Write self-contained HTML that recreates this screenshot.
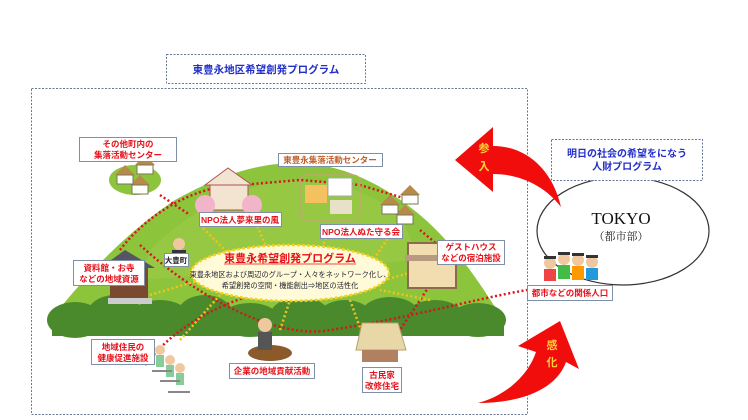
<!DOCTYPE html>
<html><head><meta charset="utf-8"><style>
html,body{margin:0;padding:0;background:#fff;}
svg{display:block;font-family:"Liberation Sans","Noto Sans CJK JP",sans-serif;}
.lb{fill:#fff;stroke:#7f8fa8;stroke-width:1;}
.rt{fill:#e8101a;font-weight:bold;font-size:8.5px;text-anchor:middle;}
.red{stroke:#d9141c;stroke-width:2.5;stroke-dasharray:2 2.5;fill:none;}
.yel{stroke:#f0c419;stroke-width:2.5;stroke-dasharray:2 2.5;fill:none;}
</style></head><body>
<svg width="748" height="420" viewBox="0 0 748 420" xmlns="http://www.w3.org/2000/svg">
<rect width="748" height="420" fill="#fff"/>
<rect x="166.5" y="54.5" width="199" height="29" fill="#fff" stroke="#6a7898" stroke-dasharray="2 1.5"/>
<text x="266" y="73" font-size="10.5" font-weight="bold" fill="#2330c8" text-anchor="middle">東豊永地区希望創発プログラム</text>
<rect x="31.5" y="88.5" width="496" height="326" fill="none" stroke="#6a7898" stroke-dasharray="2 1.5"/>

<path d="M52,318 C90,270 130,230 175,200 C220,175 260,162 300,163 C350,165 390,190 420,215 C450,240 475,275 500,315 Z" fill="#8cc43c"/>
<path d="M150,250 C200,200 260,180 300,180 C350,182 380,200 400,215 L420,260 L140,280 Z" fill="#9ccc48" opacity="0.6"/>
<g fill="#4a8a2c">
<ellipse cx="75" cy="320" rx="28" ry="18"/><ellipse cx="115" cy="315" rx="28" ry="20"/>
<ellipse cx="160" cy="318" rx="30" ry="18"/><ellipse cx="205" cy="315" rx="28" ry="20"/>
<ellipse cx="250" cy="320" rx="30" ry="17"/><ellipse cx="300" cy="316" rx="30" ry="19"/>
<ellipse cx="345" cy="318" rx="28" ry="18"/><ellipse cx="390" cy="316" rx="30" ry="19"/>
<ellipse cx="435" cy="318" rx="30" ry="18"/><ellipse cx="478" cy="320" rx="28" ry="17"/>
<rect x="52" y="318" width="452" height="18"/>
</g>
<path class="red" d="M160,195 L190,215"/>
<path class="red" d="M120,250 C150,210 200,185 240,185 L300,180 L360,185 L410,200"/>
<path class="red" d="M140,245 C200,300 280,340 330,330 C400,320 470,300 527,290"/>
<path class="red" d="M145,365 C180,320 230,300 270,290"/>
<path class="red" d="M420,230 L450,255 L400,330"/>
<path class="yel" d="M200,225 L240,265 M250,210 L270,255 M330,225 L320,255 M390,235 L370,265 M420,270 L385,280 M150,295 L200,280 M180,340 L220,295 M280,330 L290,300 M350,300 L370,355 M430,300 L380,290"/>

<ellipse cx="290" cy="273" rx="99" ry="28" fill="#fffbd8" stroke="#f3d11c" stroke-width="2.5" stroke-dasharray="3 2"/>
<text x="290" y="262" font-size="11" font-weight="bold" fill="#e8101a" text-anchor="middle">東豊永希望創発プログラム</text>
<line x1="224" y1="264" x2="356" y2="264" stroke="#e8101a" stroke-width="0.8"/>
<text x="290" y="277" font-size="7.2" fill="#223" text-anchor="middle">東豊永地区および周辺のグループ・人々をネットワーク化し、</text>
<text x="290" y="288" font-size="7.2" fill="#223" text-anchor="middle">希望創発の空間・機能創出⇒地区の活性化</text>

<ellipse cx="135" cy="180" rx="26" ry="15" fill="#8cc43c"/>
<g fill="#b88a4a"><path d="M115,175 l10,-10 l10,10Z M135,165 l10,-10 l10,10Z M130,185 l10,-10 l10,10Z"/></g>
<g fill="#fff" stroke="#775"><rect x="117" y="175" width="16" height="9"/><rect x="137" y="165" width="16" height="9"/><rect x="132" y="185" width="16" height="9"/></g>
<g fill="#b88a4a"><path d="M380,205 l10,-10 l10,10Z M400,195 l10,-10 l10,10Z M395,215 l10,-10 l10,10Z"/></g>
<g fill="#fff" stroke="#775"><rect x="382" y="205" width="16" height="9"/><rect x="402" y="195" width="16" height="9"/><rect x="397" y="215" width="16" height="9"/></g>
<path d="M205,185 L228,168 L252,185Z" fill="#f3e4d2" stroke="#a55"/>
<rect x="210" y="185" width="38" height="25" fill="#f3e4d2" stroke="#a55"/>
<circle cx="205" cy="205" r="10" fill="#f2b4c8"/><circle cx="252" cy="205" r="10" fill="#f2b4c8"/>
<rect x="300" y="175" width="60" height="45" rx="6" fill="none" stroke="#d69a80"/>
<rect x="305" y="185" width="22" height="18" fill="#f5c060"/><rect x="328" y="178" width="24" height="18" fill="#fff" stroke="#aaa"/><rect x="330" y="200" width="22" height="14" fill="#e8e0c8"/>
<rect x="408" y="243" width="48" height="45" fill="#f2ddb0" stroke="#8b6a50" stroke-width="2"/>
<rect x="405" y="255" width="54" height="6" fill="#b89a80"/>
<path d="M100,268 L125,250 L155,268Z" fill="#556"/>
<rect x="110" y="268" width="38" height="30" fill="#7a4a30"/>
<rect x="108" y="298" width="44" height="6" fill="#ccc"/>
<ellipse cx="270" cy="353" rx="22" ry="8" fill="#8b5a2b"/>
<circle cx="265" cy="325" r="7" fill="#f0c8a0"/><rect x="258" y="332" width="14" height="18" fill="#555"/>
<path d="M362,323 L398,323 L406,350 L356,350Z" fill="#e8d8a8" stroke="#b8a070"/>
<rect x="362" y="350" width="36" height="12" fill="#b08060"/>
<g fill="#f0c8a0"><circle cx="160" cy="350" r="5"/><circle cx="170" cy="360" r="5"/><circle cx="180" cy="368" r="5"/></g>
<g fill="#8c9"><rect x="156" y="355" width="8" height="12"/><rect x="166" y="365" width="8" height="12"/><rect x="176" y="373" width="8" height="12"/></g>
<g stroke="#888" stroke-width="2"><line x1="152" y1="371" x2="172" y2="371"/><line x1="160" y1="381" x2="180" y2="381"/><line x1="168" y1="392" x2="190" y2="392"/></g>
<circle cx="179" cy="244" r="6" fill="#f0c8a0"/><rect x="172" y="250" width="14" height="8" fill="#334"/>

<rect class="lb" x="79.5" y="137.5" width="97" height="24"/>
<text class="rt" x="128" y="147">その他町内の</text><text class="rt" x="128" y="158">集落活動センター</text>
<rect class="lb" x="278.5" y="153.5" width="104" height="13"/>
<text class="rt" x="330" y="163" style="fill:#c0602a">東豊永集落活動センター</text>
<rect class="lb" x="199.5" y="212.5" width="82" height="14"/>
<text class="rt" x="240" y="223">NPO法人夢来里の風</text>
<rect class="lb" x="320.5" y="224.5" width="82" height="14"/>
<text class="rt" x="361" y="235">NPO法人ぬた守る会</text>
<rect class="lb" x="164.5" y="253.5" width="24" height="13"/>
<text x="176" y="263" font-size="7.5" font-weight="bold" fill="#222" text-anchor="middle">大豊町</text>
<rect class="lb" x="73.5" y="260.5" width="71" height="25"/>
<text class="rt" x="109" y="271">資料館・お寺</text><text class="rt" x="109" y="282">などの地域資源</text>
<rect class="lb" x="437.5" y="240.5" width="67" height="24"/>
<text class="rt" x="471" y="250">ゲストハウス</text><text class="rt" x="471" y="261">などの宿泊施設</text>
<rect class="lb" x="91.5" y="339.5" width="63" height="25"/>
<text class="rt" x="123" y="350">地域住民の</text><text class="rt" x="123" y="361">健康促進施設</text>
<rect class="lb" x="229.5" y="363.5" width="85" height="15"/>
<text class="rt" x="272" y="374">企業の地域貢献活動</text>
<rect class="lb" x="362.5" y="367.5" width="39" height="25"/>
<text class="rt" x="382" y="378">古民家</text><text class="rt" x="382" y="389">改修住宅</text>
<rect class="lb" x="527.5" y="285.5" width="85" height="15"/>
<text class="rt" x="570" y="296">都市などの関係人口</text>

<ellipse cx="623" cy="231" rx="86" ry="54" fill="#fff" stroke="#333" stroke-width="1.2"/>
<rect x="551.5" y="139.5" width="151" height="41" fill="#fff" stroke="#6a7898" stroke-dasharray="2 1.5"/>
<text x="627" y="157" font-size="10" font-weight="bold" fill="#2330c8" text-anchor="middle">明日の社会の希望をになう</text>
<text x="627" y="170" font-size="10" font-weight="bold" fill="#2330c8" text-anchor="middle">人財プログラム</text>
<text x="621" y="224" font-size="17" fill="#111" text-anchor="middle" font-family="Liberation Serif,serif">TOKYO</text>
<text x="621" y="240" font-size="11" fill="#222" text-anchor="middle" font-family="Liberation Serif,'Noto Serif CJK SC',serif">（都市部）</text>
<g><circle cx="550" cy="263" r="6" fill="#f0c8a0"/><rect x="544" y="269" width="12" height="12" fill="#e44"/>
<circle cx="564" cy="259" r="6" fill="#f0c8a0"/><rect x="558" y="265" width="12" height="14" fill="#4b4"/>
<circle cx="578" cy="260" r="6" fill="#f0c8a0"/><rect x="572" y="266" width="12" height="14" fill="#f90"/>
<circle cx="592" cy="262" r="6" fill="#f0c8a0"/><rect x="586" y="268" width="12" height="12" fill="#29d"/>
<g fill="#333"><rect x="544" y="256" width="12" height="3"/><rect x="558" y="252" width="12" height="3"/><rect x="572" y="253" width="12" height="3"/><rect x="586" y="255" width="12" height="3"/></g></g>

<path d="M455,160 L493,127 L493,146 C525,146 552,168 561,207 C545,186 520,174 493,174 L493,192 Z" fill="#f20d0d"/>
<text x="484" y="152" font-size="11" font-weight="bold" fill="#ffd23a" text-anchor="middle">参</text>
<text x="484" y="170" font-size="11" font-weight="bold" fill="#ffd23a" text-anchor="middle">入</text>
<path d="M478,403 C505,396 528,376 536,352 L518,346 L560,321 L579,369 L566,362 C556,390 520,403 478,403 Z" fill="#f20d0d"/>
<text x="552" y="349" font-size="11" font-weight="bold" fill="#ffd23a" text-anchor="middle">感</text>
<text x="552" y="366" font-size="11" font-weight="bold" fill="#ffd23a" text-anchor="middle">化</text>
</svg>
</body></html>
